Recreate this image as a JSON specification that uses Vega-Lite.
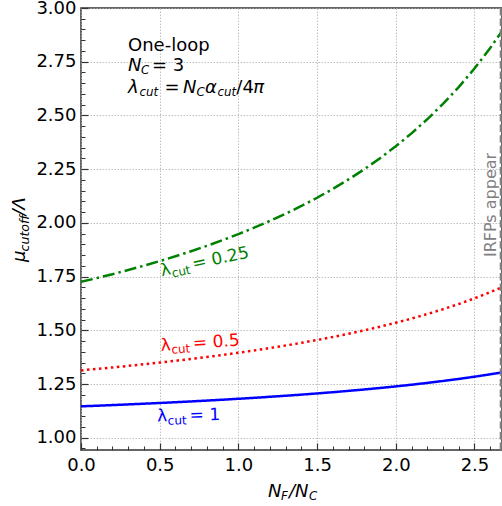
{
  "$schema": "https://vega.github.io/schema/vega-lite/v6.json",
  "width": 421,
  "height": 442,
  "autosize": {"type": "none"},
  "padding": {"left": 81, "top": 8, "right": 0, "bottom": 56},
  "config": {
    "view": {"stroke": "#333333", "strokeWidth": 1.5},
    "font": "DejaVu Sans"
  },
  "datasets": {
    "curves": [
      {"x":0,"y":1.1461,"s":"1"},{"x":0.1,"y":1.1490,"s":"1"},{"x":0.2,"y":1.1520,"s":"1"},{"x":0.3,"y":1.1552,"s":"1"},{"x":0.4,"y":1.1584,"s":"1"},{"x":0.5,"y":1.1618,"s":"1"},{"x":0.6,"y":1.1654,"s":"1"},{"x":0.7,"y":1.1691,"s":"1"},{"x":0.8,"y":1.1730,"s":"1"},{"x":0.9,"y":1.1771,"s":"1"},{"x":1.0,"y":1.1814,"s":"1"},{"x":1.1,"y":1.1858,"s":"1"},{"x":1.2,"y":1.1906,"s":"1"},{"x":1.3,"y":1.1955,"s":"1"},{"x":1.4,"y":1.2007,"s":"1"},{"x":1.5,"y":1.2062,"s":"1"},{"x":1.6,"y":1.2120,"s":"1"},{"x":1.7,"y":1.2182,"s":"1"},{"x":1.8,"y":1.2247,"s":"1"},{"x":1.9,"y":1.2316,"s":"1"},{"x":2.0,"y":1.2390,"s":"1"},{"x":2.1,"y":1.2468,"s":"1"},{"x":2.2,"y":1.2552,"s":"1"},{"x":2.3,"y":1.2641,"s":"1"},{"x":2.4,"y":1.2737,"s":"1"},{"x":2.5,"y":1.2840,"s":"1"},{"x":2.6,"y":1.2952,"s":"1"},{"x":2.675,"y":1.3041,"s":"1"},
      {"x":0,"y":1.3135,"s":"0.5"},{"x":0.1,"y":1.3202,"s":"0.5"},{"x":0.2,"y":1.3271,"s":"0.5"},{"x":0.3,"y":1.3344,"s":"0.5"},{"x":0.4,"y":1.3419,"s":"0.5"},{"x":0.5,"y":1.3499,"s":"0.5"},{"x":0.6,"y":1.3582,"s":"0.5"},{"x":0.7,"y":1.3668,"s":"0.5"},{"x":0.8,"y":1.3760,"s":"0.5"},{"x":0.9,"y":1.3855,"s":"0.5"},{"x":1.0,"y":1.3956,"s":"0.5"},{"x":1.1,"y":1.4062,"s":"0.5"},{"x":1.2,"y":1.4174,"s":"0.5"},{"x":1.3,"y":1.4292,"s":"0.5"},{"x":1.4,"y":1.4418,"s":"0.5"},{"x":1.5,"y":1.4550,"s":"0.5"},{"x":1.6,"y":1.4691,"s":"0.5"},{"x":1.7,"y":1.4840,"s":"0.5"},{"x":1.8,"y":1.4999,"s":"0.5"},{"x":1.9,"y":1.5169,"s":"0.5"},{"x":2.0,"y":1.5351,"s":"0.5"},{"x":2.1,"y":1.5545,"s":"0.5"},{"x":2.2,"y":1.5755,"s":"0.5"},{"x":2.3,"y":1.5980,"s":"0.5"},{"x":2.4,"y":1.6223,"s":"0.5"},{"x":2.5,"y":1.6487,"s":"0.5"},{"x":2.6,"y":1.6774,"s":"0.5"},{"x":2.675,"y":1.7006,"s":"0.5"},
      {"x":0,"y":1.7254,"s":"0.25"},{"x":0.1,"y":1.7429,"s":"0.25"},{"x":0.2,"y":1.7613,"s":"0.25"},{"x":0.3,"y":1.7805,"s":"0.25"},{"x":0.4,"y":1.8008,"s":"0.25"},{"x":0.5,"y":1.8221,"s":"0.25"},{"x":0.6,"y":1.8446,"s":"0.25"},{"x":0.7,"y":1.8682,"s":"0.25"},{"x":0.8,"y":1.8933,"s":"0.25"},{"x":0.9,"y":1.9197,"s":"0.25"},{"x":1.0,"y":1.9477,"s":"0.25"},{"x":1.1,"y":1.9775,"s":"0.25"},{"x":1.2,"y":2.0091,"s":"0.25"},{"x":1.3,"y":2.0427,"s":"0.25"},{"x":1.4,"y":2.0786,"s":"0.25"},{"x":1.5,"y":2.1170,"s":"0.25"},{"x":1.6,"y":2.1581,"s":"0.25"},{"x":1.7,"y":2.2022,"s":"0.25"},{"x":1.8,"y":2.2497,"s":"0.25"},{"x":1.9,"y":2.3010,"s":"0.25"},{"x":2.0,"y":2.3564,"s":"0.25"},{"x":2.1,"y":2.4166,"s":"0.25"},{"x":2.2,"y":2.4821,"s":"0.25"},{"x":2.3,"y":2.5536,"s":"0.25"},{"x":2.4,"y":2.6320,"s":"0.25"},{"x":2.5,"y":2.7183,"s":"0.25"},{"x":2.6,"y":2.8136,"s":"0.25"},{"x":2.675,"y":2.8920,"s":"0.25"}
    ],
    "lab1": [{"x":0.4847,"y":1.0754,"s":"1","v":"= 1"}],
    "lab05": [{"x":0.508,"y":1.4036,"s":"0.5","v":"= 0.5"}],
    "lab025": [{"x":0.5127,"y":1.752,"s":"0.25","v":"= 0.25"}]
  },
  "resolve": {"axis": {"x": "independent", "y": "independent"}},
  "layer": [
    {
      "data": {"name": "curves"},
      "mark": {"type": "line", "strokeWidth": 2.5, "clip": true},
      "encoding": {
        "x": {"field": "x", "type": "quantitative",
          "scale": {"domain": [0, 2.675], "nice": false, "zero": false},
          "axis": {"orient": "bottom", "values": [0, 0.5, 1, 1.5, 2, 2.5], "format": ".1f", "title": null,
            "domain": false, "grid": true, "gridColor": "#b0b0b0", "gridDash": [1.5, 1.5], "gridWidth": 0.8,
            "tickSize": -7, "tickColor": "#333333", "tickWidth": 1.2, "labelPadding": 13,
            "labelFont": "DejaVu Sans", "labelFontSize": 18, "labelColor": "#000000", "labelFlush": false, "labelOverlap": false}},
        "y": {"field": "y", "type": "quantitative",
          "scale": {"domain": [0.943, 3.0], "nice": false, "zero": false},
          "axis": {"orient": "left", "values": [1, 1.25, 1.5, 1.75, 2, 2.25, 2.5, 2.75, 3], "format": ".2f", "title": null,
            "domain": false, "grid": true, "gridColor": "#b0b0b0", "gridDash": [1.5, 1.5], "gridWidth": 0.8,
            "tickSize": -7, "tickColor": "#333333", "tickWidth": 1.2, "labelPadding": 12,
            "labelFont": "DejaVu Sans", "labelFontSize": 18, "labelColor": "#000000", "labelFlush": false, "labelOverlap": false}},
        "color": {"field": "s", "type": "nominal",
          "scale": {"domain": ["1", "0.5", "0.25"], "range": ["#0000ff", "#ff0000", "#008000"]}, "legend": null},
        "strokeDash": {"field": "s", "type": "nominal",
          "scale": {"domain": ["1", "0.5", "0.25"], "range": [[1, 0], [2.5, 3.5], [12, 4, 2.5, 4]]}, "legend": null}
      }
    },
    {
      "data": {"values": [{"x": 0, "y": 1}]},
      "mark": {"type": "point", "opacity": 0},
      "encoding": {
        "x": {"field": "x", "type": "quantitative",
          "axis": {"orient": "bottom", "values": [0.1,0.2,0.3,0.4,0.6,0.7,0.8,0.9,1.1,1.2,1.3,1.4,1.6,1.7,1.8,1.9,2.1,2.2,2.3,2.4,2.6],
            "labels": false, "grid": false, "domain": false, "title": null, "tickSize": -4, "tickColor": "#333333", "tickWidth": 1}},
        "y": {"field": "y", "type": "quantitative",
          "axis": {"orient": "left", "values": [0.95,1.05,1.1,1.15,1.2,1.3,1.35,1.4,1.45,1.55,1.6,1.65,1.7,1.8,1.85,1.9,1.95,2.05,2.1,2.15,2.2,2.3,2.35,2.4,2.45,2.55,2.6,2.65,2.7,2.8,2.85,2.9,2.95],
            "labels": false, "grid": false, "domain": false, "title": null, "tickSize": -4, "tickColor": "#333333", "tickWidth": 1}}
      }
    },
    {
      "data": {"values": [{"x": 2.6667}]},
      "mark": {"type": "rule", "color": "#808080", "strokeWidth": 2, "strokeDash": [7.4, 3.2]},
      "encoding": {"x": {"field": "x", "type": "quantitative", "axis": null}}
    },
    {
      "data": {"values": [{"x": 2.64, "y": 1.841, "t": "IRFPs appear"}]},
      "mark": {"type": "text", "angle": 270, "align": "left", "baseline": "alphabetic", "font": "DejaVu Sans", "fontSize": 16, "color": "#808080"},
      "encoding": {"x": {"field": "x", "type": "quantitative", "axis": null}, "y": {"field": "y", "type": "quantitative", "axis": null}, "text": {"field": "t"}}
    },
    {
      "data": {"name": "lab1"},
      "mark": {"type": "text", "align": "left", "baseline": "alphabetic", "font": "DejaVu Sans", "fontSize": 17, "angle": 358.5, "color": "#0000ff"},
      "encoding": {"x": {"field": "x", "type": "quantitative", "axis": null}, "y": {"field": "y", "type": "quantitative", "axis": null}, "text": {"value": "λ"}}
    },
    {
      "data": {"name": "lab1"},
      "mark": {"type": "text", "align": "left", "baseline": "alphabetic", "font": "DejaVu Sans", "fontSize": 12, "angle": 358.5, "color": "#0000ff", "dx": 10.5, "dy": 3.5},
      "encoding": {"x": {"field": "x", "type": "quantitative", "axis": null}, "y": {"field": "y", "type": "quantitative", "axis": null}, "text": {"value": "cut"}}
    },
    {
      "data": {"name": "lab1"},
      "mark": {"type": "text", "align": "left", "baseline": "alphabetic", "font": "DejaVu Sans", "fontSize": 17, "angle": 358.5, "color": "#0000ff", "dx": 32.5},
      "encoding": {"x": {"field": "x", "type": "quantitative", "axis": null}, "y": {"field": "y", "type": "quantitative", "axis": null}, "text": {"field": "v"}}
    },
    {
      "data": {"name": "lab05"},
      "mark": {"type": "text", "align": "left", "baseline": "alphabetic", "font": "DejaVu Sans", "fontSize": 17, "angle": 356, "color": "#ff0000"},
      "encoding": {"x": {"field": "x", "type": "quantitative", "axis": null}, "y": {"field": "y", "type": "quantitative", "axis": null}, "text": {"value": "λ"}}
    },
    {
      "data": {"name": "lab05"},
      "mark": {"type": "text", "align": "left", "baseline": "alphabetic", "font": "DejaVu Sans", "fontSize": 12, "angle": 356, "color": "#ff0000", "dx": 10.5, "dy": 3.5},
      "encoding": {"x": {"field": "x", "type": "quantitative", "axis": null}, "y": {"field": "y", "type": "quantitative", "axis": null}, "text": {"value": "cut"}}
    },
    {
      "data": {"name": "lab05"},
      "mark": {"type": "text", "align": "left", "baseline": "alphabetic", "font": "DejaVu Sans", "fontSize": 17, "angle": 356, "color": "#ff0000", "dx": 32.5},
      "encoding": {"x": {"field": "x", "type": "quantitative", "axis": null}, "y": {"field": "y", "type": "quantitative", "axis": null}, "text": {"field": "v"}}
    },
    {
      "data": {"name": "lab025"},
      "mark": {"type": "text", "align": "left", "baseline": "alphabetic", "font": "DejaVu Sans", "fontSize": 17, "angle": 348, "color": "#008000"},
      "encoding": {"x": {"field": "x", "type": "quantitative", "axis": null}, "y": {"field": "y", "type": "quantitative", "axis": null}, "text": {"value": "λ"}}
    },
    {
      "data": {"name": "lab025"},
      "mark": {"type": "text", "align": "left", "baseline": "alphabetic", "font": "DejaVu Sans", "fontSize": 12, "angle": 348, "color": "#008000", "dx": 10.5, "dy": 3.5},
      "encoding": {"x": {"field": "x", "type": "quantitative", "axis": null}, "y": {"field": "y", "type": "quantitative", "axis": null}, "text": {"value": "cut"}}
    },
    {
      "data": {"name": "lab025"},
      "mark": {"type": "text", "align": "left", "baseline": "alphabetic", "font": "DejaVu Sans", "fontSize": 17, "angle": 348, "color": "#008000", "dx": 32.5},
      "encoding": {"x": {"field": "x", "type": "quantitative", "axis": null}, "y": {"field": "y", "type": "quantitative", "axis": null}, "text": {"field": "v"}}
    },
    {
      "data": {"values": [
        {"x": 0.2986, "y": 2.798, "t": "One-loop"},
        {"x": 0.4511, "y": 2.707, "t": "= 3"},
        {"x": 0.5305, "y": 2.6024, "t": "="},
        {"x": 0.987, "y": 2.6024, "t": "/4"}
      ]},
      "mark": {"type": "text", "align": "left", "baseline": "alphabetic", "font": "DejaVu Sans", "fontSize": 18, "color": "#000000"},
      "encoding": {"x": {"field": "x", "type": "quantitative", "axis": null}, "y": {"field": "y", "type": "quantitative", "axis": null}, "text": {"field": "t"}}
    },
    {
      "data": {"values": [
        {"x": 0.2986, "y": 2.707, "t": "N"},
        {"x": 0.2986, "y": 2.6024, "t": "λ"},
        {"x": 0.648, "y": 2.6024, "t": "N"},
        {"x": 0.7878, "y": 2.6024, "t": "α"},
        {"x": 1.095, "y": 2.6024, "t": "π"},
        {"x": 1.188, "y": 0.724, "t": "N"},
        {"x": 1.3215, "y": 0.724, "t": "/N"}
      ]},
      "mark": {"type": "text", "align": "left", "baseline": "alphabetic", "font": "DejaVu Sans", "fontSize": 18, "fontStyle": "italic", "color": "#000000"},
      "encoding": {"x": {"field": "x", "type": "quantitative", "axis": null}, "y": {"field": "y", "type": "quantitative", "axis": null}, "text": {"field": "t"}}
    },
    {
      "data": {"values": [
        {"x": 0.3812, "y": 2.693, "t": "C"},
        {"x": 0.3717, "y": 2.5885, "t": "cut"},
        {"x": 0.7338, "y": 2.5885, "t": "C"},
        {"x": 0.8672, "y": 2.5885, "t": "cut"},
        {"x": 1.2706, "y": 0.710, "t": "F"},
        {"x": 1.4485, "y": 0.710, "t": "C"}
      ]},
      "mark": {"type": "text", "align": "left", "baseline": "alphabetic", "font": "DejaVu Sans", "fontSize": 11.8, "fontStyle": "italic", "color": "#000000"},
      "encoding": {"x": {"field": "x", "type": "quantitative", "axis": null}, "y": {"field": "y", "type": "quantitative", "axis": null}, "text": {"field": "t"}}
    },
    {
      "data": {"values": [{"x": -0.3558, "y": 1.818, "t": "μ"}]},
      "mark": {"type": "text", "angle": 270, "align": "left", "baseline": "alphabetic", "font": "DejaVu Sans", "fontSize": 18, "fontStyle": "italic", "color": "#000000"},
      "encoding": {"x": {"field": "x", "type": "quantitative", "axis": null}, "y": {"field": "y", "type": "quantitative", "axis": null}, "text": {"field": "t"}}
    },
    {
      "data": {"values": [{"x": -0.3558, "y": 1.818, "t": "cutoff"}]},
      "mark": {"type": "text", "angle": 270, "align": "left", "baseline": "alphabetic", "font": "DejaVu Sans", "fontSize": 12.6, "fontStyle": "italic", "color": "#000000", "dx": 10.5, "dy": 3.5},
      "encoding": {"x": {"field": "x", "type": "quantitative", "axis": null}, "y": {"field": "y", "type": "quantitative", "axis": null}, "text": {"field": "t"}}
    },
    {
      "data": {"values": [{"x": -0.3558, "y": 1.818, "t": "/Λ"}]},
      "mark": {"type": "text", "angle": 270, "align": "left", "baseline": "alphabetic", "font": "DejaVu Sans", "fontSize": 18, "fontStyle": "italic", "color": "#000000", "dx": 46.5},
      "encoding": {"x": {"field": "x", "type": "quantitative", "axis": null}, "y": {"field": "y", "type": "quantitative", "axis": null}, "text": {"field": "t"}}
    }
  ]
}
